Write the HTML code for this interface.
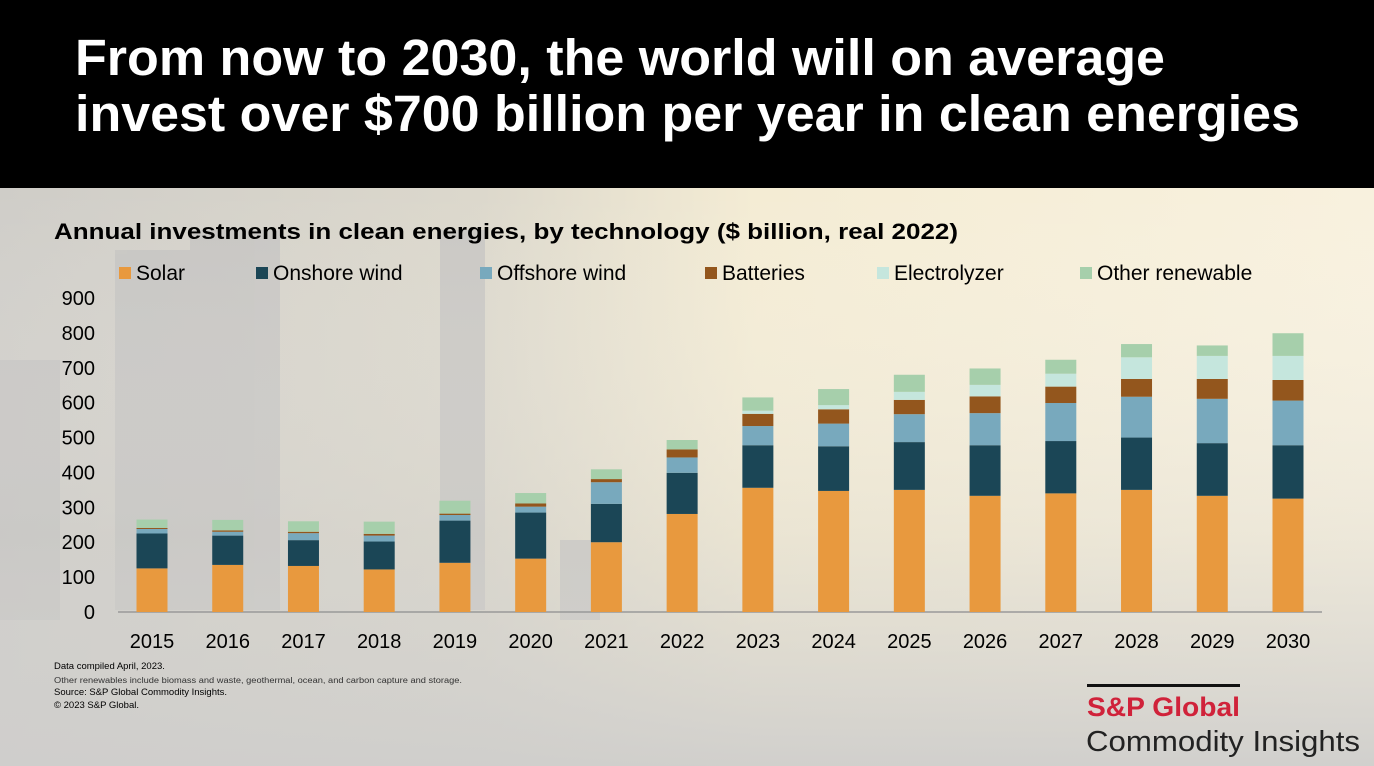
<!DOCTYPE html>
<html><head><meta charset="utf-8"><style>
html,body{margin:0;padding:0;}
body{width:1374px;height:766px;overflow:hidden;font-family:"Liberation Sans",sans-serif;position:relative;}
</style></head><body>
<svg id="chart" width="1374" height="766" xmlns="http://www.w3.org/2000/svg" style="position:absolute;left:0;top:0">
<defs>
<linearGradient id="bg" x1="0" y1="0" x2="1" y2="0">
<stop offset="0" stop-color="#cfcdc8"/><stop offset="0.35" stop-color="#dcd8cc"/><stop offset="0.55" stop-color="#f4ecd4"/><stop offset="1" stop-color="#f8f1de"/>
</linearGradient>
<linearGradient id="bg2" x1="0" y1="0" x2="0" y2="1">
<stop offset="0" stop-color="#ffffff" stop-opacity="0"/><stop offset="0.6" stop-color="#d4d3d0" stop-opacity="0.3"/><stop offset="1" stop-color="#cfcecc" stop-opacity="0.95"/>
</linearGradient>
</defs>
<rect x="0" y="188" width="1374" height="578" fill="url(#bg)"/>
<g fill="#c4c3c1" opacity="0.8">
<rect x="115" y="250" width="120" height="360"/><rect x="190" y="230" width="90" height="380"/>
<rect x="440" y="230" width="45" height="380"/><rect x="0" y="360" width="60" height="260"/>
<rect x="560" y="540" width="40" height="80"/>
</g>
<rect x="0" y="188" width="1374" height="578" fill="url(#bg2)"/>
<rect x="0" y="0" width="1374" height="188" fill="#000"/>
<text x="75" y="75" fill="#fff" font-size="51" font-weight="bold" textLength="1090" lengthAdjust="spacingAndGlyphs">From now to 2030, the world will on average</text>
<text x="75" y="131" fill="#fff" font-size="51" font-weight="bold" textLength="1225" lengthAdjust="spacingAndGlyphs">invest over $700 billion per year in clean energies</text>
<text x="54" y="239" fill="#000" font-size="22" font-weight="bold" textLength="904" lengthAdjust="spacingAndGlyphs">Annual investments in clean energies, by technology ($ billion, real 2022)</text>
<g id="legend"></g>
<g id="yaxis"></g>
<g id="bars"></g>
<g id="xaxis"></g>
<g fill="#000">
<text x="54" y="669" font-size="9.5">Data compiled April, 2023.</text>
<text x="54" y="683" font-size="8" fill="#333" textLength="408" lengthAdjust="spacingAndGlyphs">Other renewables  include biomass and waste, geothermal,  ocean, and carbon capture and storage.</text>
<text x="54" y="695" font-size="9.5">Source: S&amp;P Global Commodity Insights.</text>
<text x="54" y="708" font-size="9.5">© 2023  S&amp;P Global.</text>
</g>
<g>
<rect x="1087" y="684" width="153" height="3" fill="#111"/>
<text x="1087" y="716" font-size="27" font-weight="bold" fill="#d0223a" textLength="153" lengthAdjust="spacingAndGlyphs">S&amp;P Global</text>
<text x="1086" y="751" font-size="29" fill="#222" textLength="274" lengthAdjust="spacingAndGlyphs">Commodity Insights</text>
</g>
</svg>
<script>
const years = ["2015","2016","2017","2018","2019","2020","2021","2022","2023","2024","2025","2026","2027","2028","2029","2030"];
const solar = [125,135,132,122,141,153,200,281,356,347,350,333,340,350,333,325];
const onshore = [100,84,74,80,121,132,110,118,122,128,137,145,150,150,151,153];
const offshore = [13,11,20,17,16,17,62,44,55,65,80,92,109,117,127,128];
const batteries = [3,4,4,5,4,9,9,23,35,41,41,48,47,51,57,59];
const electrolyzer = [0,0,0,0,0,0,0,0,9,12,23,33,37,62,66,69];
const otherRen = [24,30,30,35,37,30,28,27,38,46,49,47,40,38,30,65];
const yTicks = [0,100,200,300,400,500,600,700,800,900];
const seriesNames = ["Solar","Onshore wind","Offshore wind","Batteries","Electrolyzer","Other renewable"];

const colors = ["#e8993e","#1b4656","#78a9bd","#93561d","#c5e6dd","#a6cfab"];
const NS="http://www.w3.org/2000/svg";
const y0=612, pxPer=314/900;
const yScale=v=>y0-v*pxPer;
const x0=152, step=(1288-152)/15, bw=31;
const xScale=i=>x0+i*step;
function el(t,a){const e=document.createElementNS(NS,t);for(const k in a)e.setAttribute(k,a[k]);return e;}

const yg=document.getElementById('yaxis');
yTicks.forEach(t=>{
  const tx=el('text',{x:95,y:yScale(t)+7,'text-anchor':'end','font-size':20,fill:'#000'});
  
  
  tx.textContent=t;yg.appendChild(tx);
});
const base=el('line',{x1:118,x2:1322,y1:y0,y2:y0,stroke:'#999','stroke-width':1.5});


yg.appendChild(base);

const series=[solar,onshore,offshore,batteries,electrolyzer,otherRen];
const bg=document.getElementById('bars');
years.forEach((yr,i)=>{
  let cum=0;
  series.forEach((s,j)=>{
    const v=s[i]; if(v<=0)return;
    const top=yScale(cum+v), bot=yScale(cum);
    const r=el('rect',{x:xScale(i)-bw/2,y:top,width:bw,height:bot-top,fill:colors[j]});
    
    
    bg.appendChild(r);cum+=v;
  });
});
const xg=document.getElementById('xaxis');
years.forEach((yr,i)=>{
  const tx=el('text',{x:xScale(i),y:648,'text-anchor':'middle','font-size':20,fill:'#000'});
  
  
  tx.textContent=yr;xg.appendChild(tx);
});
const lg=document.getElementById('legend');
const lx=[119,256,480,705,877,1080];
seriesNames.forEach((n,j)=>{
  const g=el('g',{});
  
  
  g.appendChild(el('rect',{x:lx[j],y:267,width:12,height:12,fill:colors[j]}));
  const t=el('text',{x:lx[j]+17,y:280,'font-size':21,fill:'#000'});t.textContent=n;g.appendChild(t);
  lg.appendChild(g);
});
</script>
</body></html>
